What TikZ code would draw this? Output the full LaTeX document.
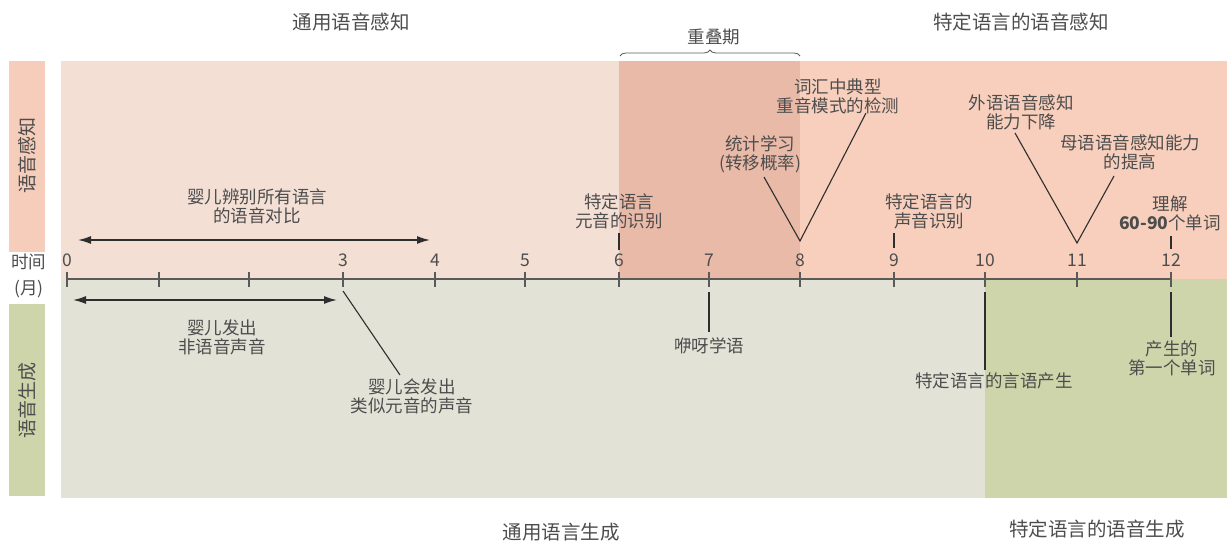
\documentclass[tikz,border=0pt]{standalone}
\usepackage{fontspec}
\setmainfont{Noto Sans CJK SC}
\usetikzlibrary{arrows.meta,decorations.pathreplacing}
\definecolor{PercBox}{HTML}{F6CDBA}
\definecolor{PercGen}{HTML}{F4DFD5}
\definecolor{PercOver}{HTML}{EABAA8}
\definecolor{PercSpec}{HTML}{F7CFBC}
\definecolor{ProdGen}{HTML}{E2E3D6}
\definecolor{ProdSpec}{HTML}{CFD5AB}
\definecolor{TextGray}{HTML}{4D4D4D}
\definecolor{LineDark}{HTML}{2E2E2E}
\definecolor{AxisGray}{HTML}{5A5A5A}
\tikzstyle{Label}=[text=TextGray, align=center, inner sep=0pt, font=\fontsize{17.5}{19}\selectfont]
\tikzstyle{Header}=[Label, font=\fontsize{19.5}{21}\selectfont]
\tikzstyle{Side}=[Label, rotate=90, font=\fontsize{19}{21}\selectfont]
\tikzstyle{Month}=[Label, font=\fontsize{17.5}{19}\selectfont]
\tikzstyle{Tick}=[draw=AxisGray, line width=1.2pt]
\tikzstyle{Pointer}=[draw=LineDark, line width=1.1pt]
\tikzstyle{Span}=[<->, draw=LineDark, line width=1.5pt]
\tikzset{>={Latex[length=13pt,width=8pt]}}

\begin{document}
\begin{tikzpicture}[x=1pt,y=-1pt]
\useasboundingbox (0,0) rectangle (1227,541);

% background bands
\fill[PercBox] (9,61) rectangle (45,252);
\fill[ProdSpec] (9,304) rectangle (45,496);
\fill[PercGen] (61,61) rectangle (619,279);
\fill[PercOver] (619,61) rectangle (800,279);
\fill[PercSpec] (800,61) rectangle (1227,279);
\fill[ProdGen] (61,279) rectangle (985,498);
\fill[ProdSpec] (985,279) rectangle (1227,498);

% side and header labels
\node[Side](SidePerc) at (27,155) {语音感知};
\node[Side](SideProd) at (27,400) {语音生成};
\node[Month](TimeA) at (29,262) {时间};
\node[Month](TimeB) at (29,289) {(月)};
\node[Header](HeadGenPerc) at (351,22) {通用语音感知};
\node[Header](HeadSpecPerc) at (1021,22) {特定语言的语音感知};
\node[Header](HeadGenProd) at (561,532) {通用语言生成};
\node[Header](HeadSpecProd) at (1097,529) {特定语言的语音生成};
\node[Label](Overlap) at (714,37) {重叠期};
\coordinate (BraceL) at (620,56);
\coordinate (BraceR) at (800,56);
\draw[decorate, decoration={brace, amplitude=6pt}, draw=AxisGray, line width=0.8pt] (BraceL) -- (BraceR);

% time axis
\foreach \m/\x in {0/67,1/159,2/249,3/343,4/435,5/525,6/619,7/709,8/800,9/894,10/985,11/1077,12/1171}
  \coordinate (T\m) at (\x,279);
\draw[Tick, line width=2pt] (T0) -- (T12);
\foreach \m in {0,...,12}
  \draw[Tick] ([yshift=7pt]T\m) -- ([yshift=-8pt]T\m);
\foreach \m in {0,3,4,5,6,7,8,9,10,11,12}
  \node[Month](N\m) at ([yshift=19pt]T\m) {\m};

% perception events
\node[Label](AllContrast) at (257,206) {婴儿辨别所有语言\\的语音对比};
\coordinate (PercL) at (78,240);
\coordinate (PercR) at (430,240);
\draw[Span] (PercL) -- (PercR);

\node[Label](VowelId) at (619,211) {特定语言\\元音的识别};
\coordinate (M6a) at (619,233);
\coordinate (M6b) at (619,250);
\draw[Pointer] (M6a) -- (M6b);

\node[Label](StatLearn) at (760,154) {统计学习\\(转移概率)};
\node[Label](StressDet) at (838,96) {词汇中典型\\重音模式的检测};
\coordinate (V8) at (800,241);
\coordinate (V8l) at (764,177);
\coordinate (V8r) at (866,113);
\draw[Pointer] (V8l) -- (V8) -- (V8r);

\node[Label](SoundId) at (929,211) {特定语言的\\声音识别};
\coordinate (M9a) at (894,233);
\coordinate (M9b) at (894,248);
\draw[Pointer] (M9a) -- (M9b);

\node[Label](ForeignDown) at (1021,112) {外语语音感知\\能力下降};
\node[Label](NativeUp) at (1130,152) {母语语音感知能力\\的提高};
\coordinate (V11) at (1077,243);
\coordinate (V11l) at (1015,133);
\coordinate (V11r) at (1114,176);
\draw[Pointer] (V11l) -- (V11) -- (V11r);

\node[Label](Comprehend) at (1170,213) {理解\\\textbf{60-90}个单词};
\coordinate (M12a) at (1171,236);
\coordinate (M12b) at (1171,249);
\draw[Pointer] (M12a) -- (M12b);

% production events
\coordinate (ProdL) at (73,300);
\coordinate (ProdR) at (337,300);
\draw[Span] (ProdL) -- (ProdR);
\node[Label](NonSpeech) at (222,337) {婴儿发出\\非语音声音};

\node[Label](VowelLike) at (412,396) {婴儿会发出\\类似元音的声音};
\coordinate (M3a) at (343,291);
\coordinate (M3b) at (400,375);
\draw[Pointer] (M3a) -- (M3b);

\node[Label](Babble) at (709,346) {咿呀学语};
\coordinate (M7a) at (709,292);
\coordinate (M7b) at (709,332);
\draw[Pointer] (M7a) -- (M7b);

\node[Label](SpecProd) at (994,381) {特定语言的言语产生};
\coordinate (M10a) at (985,292);
\coordinate (M10b) at (985,370);
\draw[Pointer] (M10a) -- (M10b);

\node[Label](FirstWord) at (1172,358) {产生的\\第一个单词};
\coordinate (M12c) at (1171,292);
\coordinate (M12d) at (1171,337);
\draw[Pointer] (M12c) -- (M12d);
\end{tikzpicture}
\end{document}
